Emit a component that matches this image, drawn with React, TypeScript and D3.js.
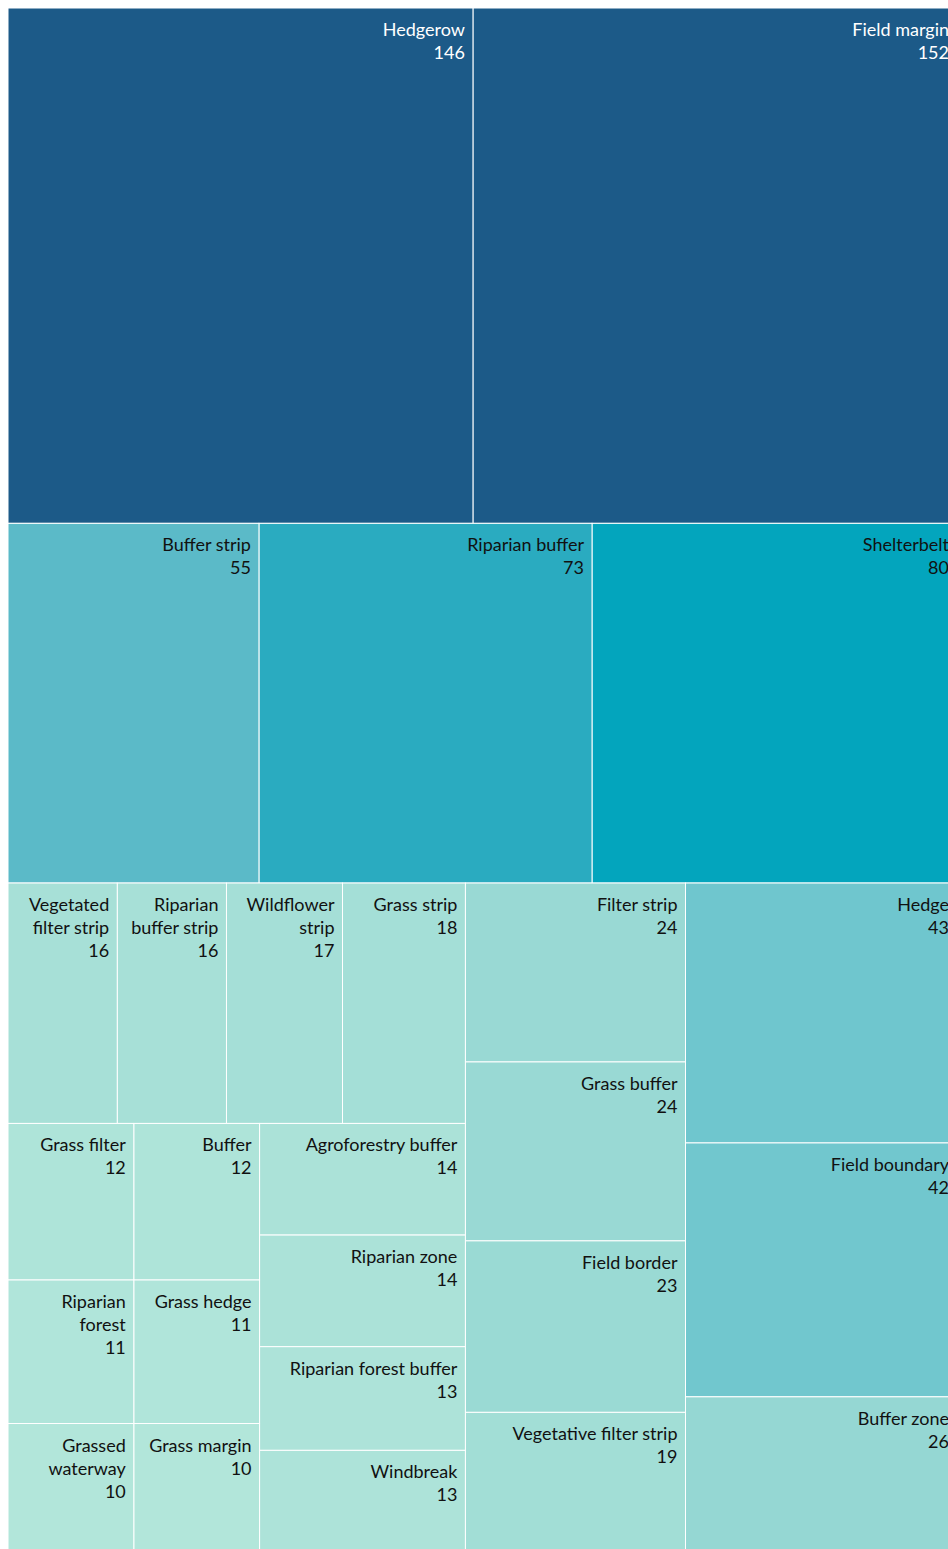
import React, { useMemo } from "react";
import * as d3 from "d3";

const names = [
  "Field margin", "Hedgerow", "Shelterbelt", "Riparian buffer", "Buffer strip",
  "Hedge", "Field boundary", "Buffer zone", "Filter strip", "Grass buffer",
  "Field border", "Vegetative filter strip", "Grass strip", "Wildflower strip",
  "Riparian buffer strip", "Vegetated filter strip", "Agroforestry buffer",
  "Riparian zone", "Riparian forest buffer", "Windbreak", "Buffer", "Grass filter",
  "Grass hedge", "Riparian forest", "Grass margin", "Grassed waterway",
];
const values = [
  152, 146, 80, 73, 55,
  43, 42, 26, 24, 24,
  23, 19, 18, 17,
  16, 16, 14,
  14, 13, 13, 12, 12,
  11, 11, 10, 10,
];

const colorStops = [10, 26, 43, 55, 73, 80, 146];
const colorRange = ["#b2e6da", "#95d7d3", "#6fc6ce", "#5bbac8", "#2aabc0", "#03a5bd", "#1c5a88"];

const W = 949;
const H = 1546;
const FONT = "Lato, 'Open Sans', sans-serif";
const FS = 18;

let ctx: CanvasRenderingContext2D | null = null;
function measure(t: string) {
  if (!ctx) ctx = document.createElement("canvas").getContext("2d");
  ctx!.font = `${FS}px Lato`;
  return ctx!.measureText(t).width;
}
function wrap(text: string, maxW: number) {
  const words = text.split(" ");
  const lines: string[] = [];
  let cur = "";
  for (const w of words) {
    const t = cur ? cur + " " + w : w;
    if (cur && measure(t) > maxW) {
      lines.push(cur);
      cur = w;
    } else cur = t;
  }
  if (cur) lines.push(cur);
  return lines;
}

export default function App() {
  const color = d3.scaleLinear<string>().domain(colorStops).range(colorRange).clamp(true);
  const leaves = useMemo(() => {
    const data = { name: "root", children: names.map((n, i) => ({ name: n, value: values[i] })) };
    const root = d3
      .hierarchy<any>(data)
      .sum((d: any) => d.value || 0)
      .sort((a, b) => (b.value as number) - (a.value as number));
    d3.treemap<any>().tile(d3.treemapSquarify).size([W, H]).round(false)(root);
    return root.leaves() as d3.HierarchyRectangularNode<any>[];
  }, []);

  return (
    <svg
      width={940}
      height={1541}
      style={{ position: "absolute", left: 8, top: 8 }}
      fontFamily={FONT}
    >
      {leaves.map((d, i) => {
        const x0 = W - d.x1;
        const x1 = W - d.x0;
        const w = x1 - x0;
        const fill = color(d.data.value);
        const dark = d.data.value > 100;
        const lines = wrap(d.data.name, w - 16);
        return (
          <g key={i}>
            <rect x={x0} y={d.y0} width={w} height={d.y1 - d.y0} fill={fill} stroke="#fff" strokeWidth={1} />
            <text textAnchor="end" fontSize={FS} fill={dark ? "#fff" : "#111"}>
              {lines.map((l, j) => (
                <tspan key={j} x={x1 - 8} y={d.y0 + 28 + j * 23}>{l}</tspan>
              ))}
              <tspan x={x1 - 8} y={d.y0 + 28 + lines.length * 23}>{d.data.value}</tspan>
            </text>
          </g>
        );
      })}
    </svg>
  );
}
